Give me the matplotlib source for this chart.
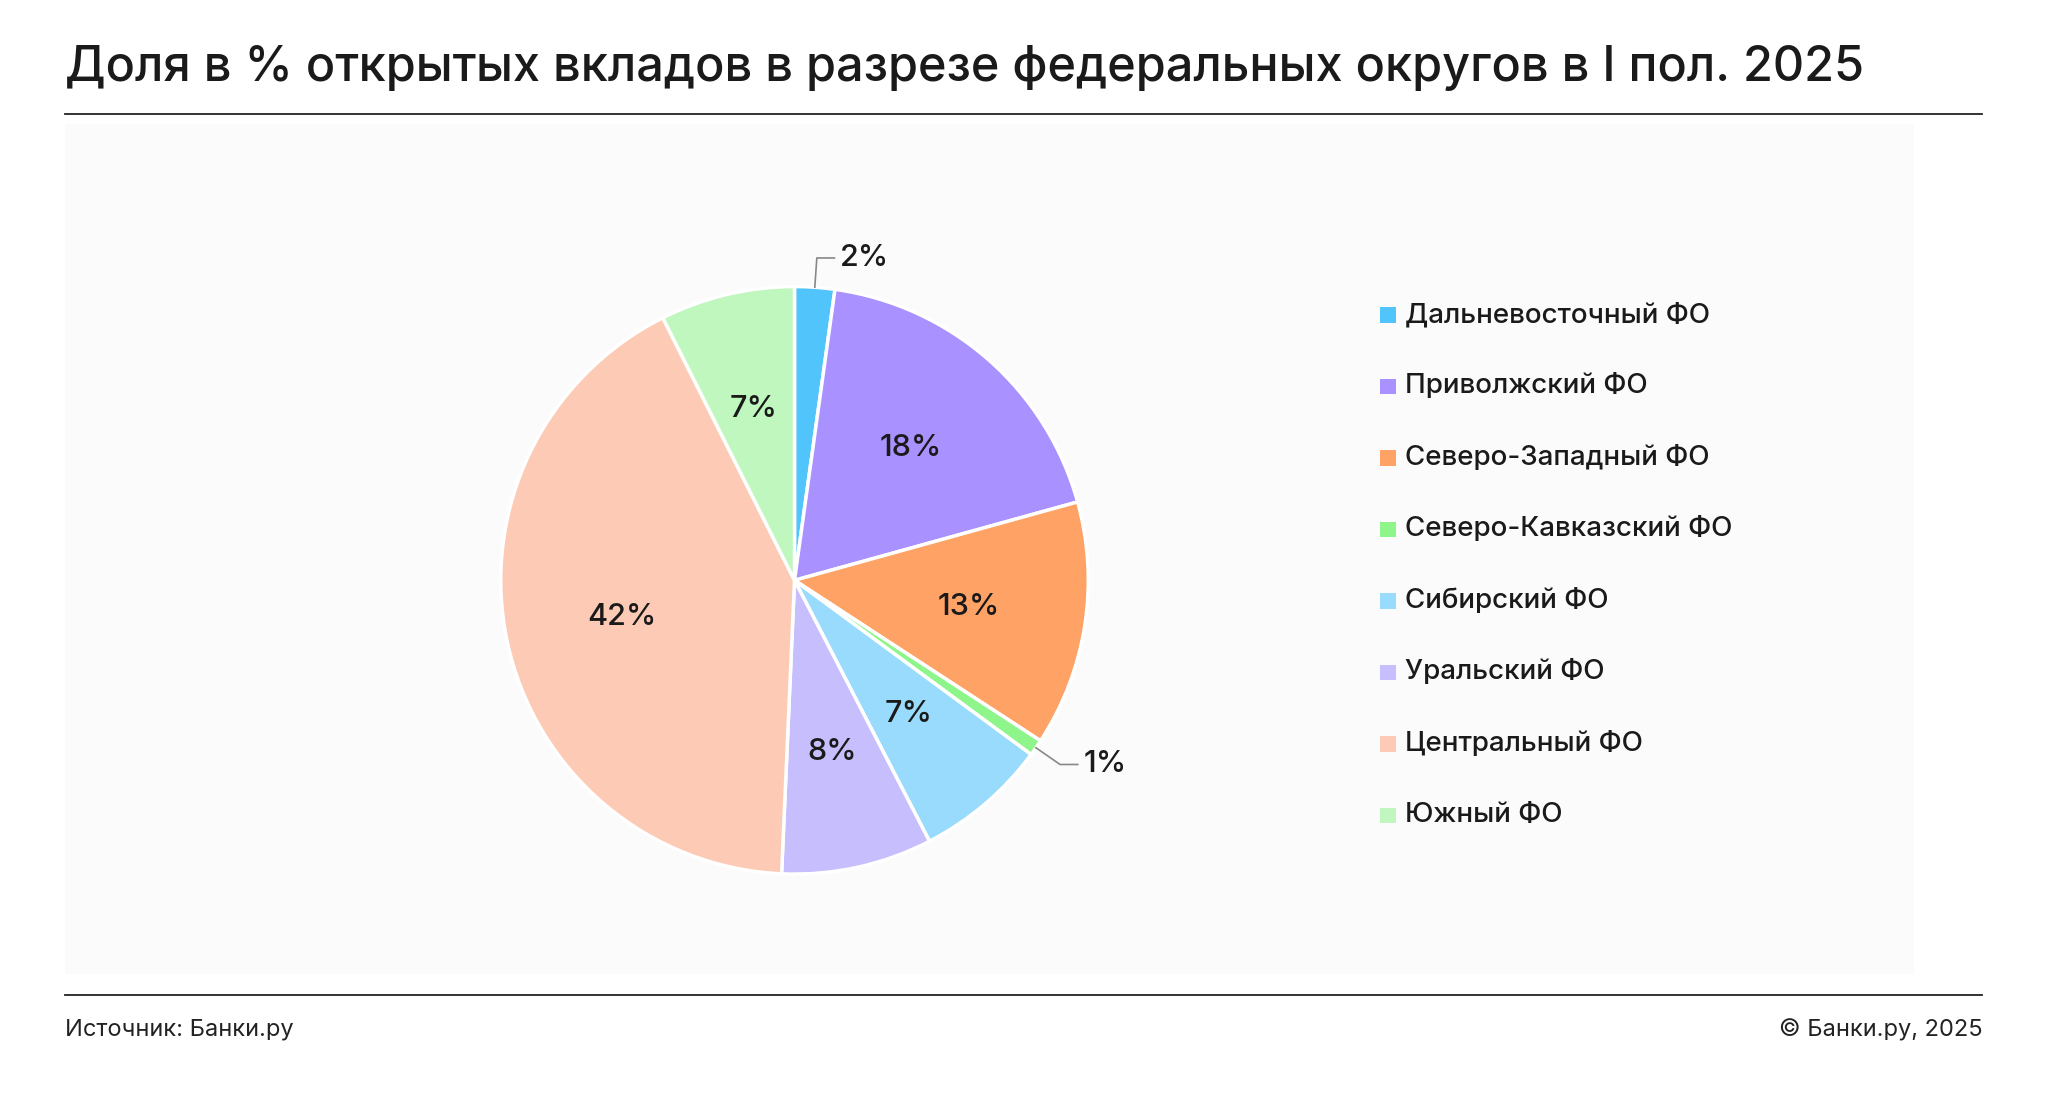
"""Доля открытых вкладов по федеральным округам, I пол. 2025."""

import numpy as np
import matplotlib.pyplot as plt
from matplotlib.patches import Rectangle
from matplotlib.lines import Line2D

labels = ["Дальневосточный ФО", "Приволжский ФО", "Северо-Западный ФО",
          "Северо-Кавказский ФО", "Сибирский ФО", "Уральский ФО",
          "Центральный ФО", "Южный ФО"]
shares = [2.2, 18.5, 13.5, 0.9, 7.3, 8.3, 41.9, 7.4]
pct_labels = ["2%", "18%", "13%", "1%", "7%", "8%", "42%", "7%"]
colors = ["#50C4FB", "#A991FF", "#FFA266", "#8EF58A",
          "#99DBFD", "#C7BEFD", "#FDCBB5", "#BFF7BE"]

W, H = 1568, 837  # reference layout units
plt.rcParams["font.family"] = ["Inter", "DejaVu Sans"]
fig = plt.figure(figsize=(20.49, 10.94), dpi=100)
fig.patch.set_facecolor("white")


def fx(x):
    return x / W


def fy(y):
    return 1 - y / H


# faint plot panel
fig.patches.append(Rectangle((fx(50), fy(745)), fx(1465) - fx(50), fy(95) - fy(745),
                             transform=fig.transFigure, facecolor="#FBFBFB",
                             edgecolor="none", zorder=0))

fig.text(fx(50), fy(52), "Доля в % открытых вкладов в разрезе федеральных округов в I пол. 2025",
         fontsize=35, fontweight="medium", color="#1A1A1A", va="center", ha="left")
for y in (87, 761):
    fig.add_artist(Line2D([fx(50), fx(1517)], [fy(y), fy(y)], color="#222222", lw=1.3))
fig.text(fx(50), fy(788), "Источник: Банки.ру", fontsize=17, color="#222222", va="center")
fig.text(fx(1517), fy(788), "© Банки.ру, 2025", fontsize=17, color="#222222",
         va="center", ha="right")

cx, cy, r = 608, 444, 281
ax = fig.add_axes([fx(cx - r), fy(cy + r), 2 * r / W, 2 * r / H])
ax.set_zorder(3)
ax.patch.set_alpha(0)
wedges, _ = ax.pie(shares, colors=colors, startangle=90, counterclock=False,
                   wedgeprops=dict(edgecolor="white", linewidth=2.5))
ax.set_aspect("equal")

for w, lab, s in zip(wedges, pct_labels, shares):
    mid = np.deg2rad((w.theta1 + w.theta2) / 2)
    if s < 3:
        x0, y0 = 1.0 * np.cos(mid), 1.0 * np.sin(mid)
        x1, y1 = 1.1 * np.cos(mid), 1.1 * np.sin(mid)
        dx = 0.06 if np.cos(mid) >= 0 else -0.06
        ax.plot([x0, x1, x1 + dx], [y0, y1, y1], color="#888888", lw=1.2, clip_on=False)
        ax.text(x1 + dx + 0.02, y1, lab, fontsize=22, fontweight="medium",
                va="center", ha="left", color="#1A1A1A")
    else:
        ax.text(0.6 * np.cos(mid), 0.6 * np.sin(mid), lab, fontsize=22, fontweight="medium",
                ha="center", va="center", color="#1A1A1A")

for i, (lab, c) in enumerate(zip(labels, colors)):
    y = 241 + i * 54.7
    fig.patches.append(Rectangle((fx(1056), fy(y + 6)), fx(12), 12 / H,
                                 transform=fig.transFigure, facecolor=c, edgecolor="none"))
    fig.text(fx(1075), fy(y), lab, fontsize=20, fontweight="medium", color="#1A1A1A", va="center")

fig.savefig("out.png", dpi=100)
